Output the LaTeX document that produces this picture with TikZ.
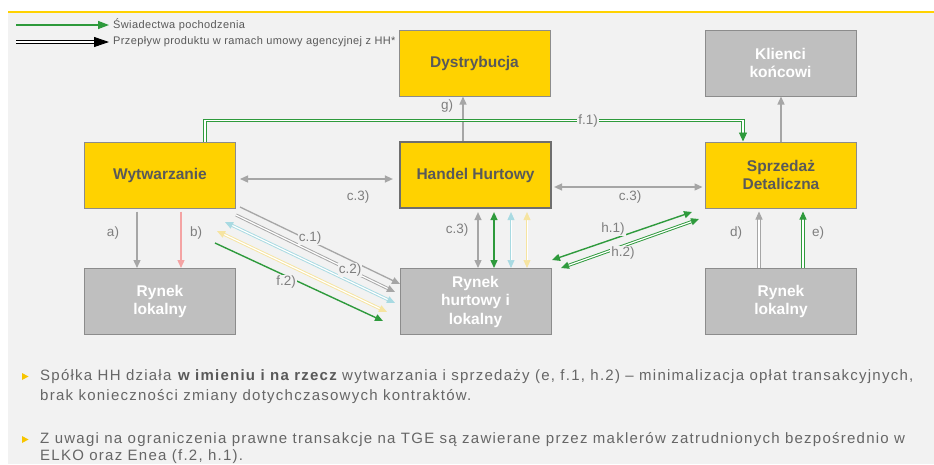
\documentclass[tikz,border=0pt]{standalone}
\usepackage{fontspec}
\setmainfont{Liberation Sans}
\newfontfamily\bulfont[LetterSpace=8.3]{Liberation Sans}
\newfontfamily\legfont[LetterSpace=3.5]{Liberation Sans}
\usetikzlibrary{arrows.meta,calc}
\definecolor{bg}{HTML}{F2F2F2}
\definecolor{hhyellow}{HTML}{FFD200}
\definecolor{bulyellow}{HTML}{F7C500}
\definecolor{boxgray}{HTML}{BFBFBF}
\definecolor{edgegray}{HTML}{8C8C8C}
\definecolor{darkedge}{HTML}{6E6E6E}
\definecolor{argray}{HTML}{A6A6A6}
\definecolor{hgreen}{HTML}{2E9A3C}
\definecolor{hpink}{HTML}{F4A3A3}
\definecolor{hblue}{HTML}{A8DAE2}
\definecolor{hlyellow}{HTML}{F6E4A0}
\definecolor{txtgray}{HTML}{595959}
\definecolor{lblgray}{HTML}{7F7F7F}
\definecolor{bultxt}{HTML}{666666}
\tikzset{
  ybox/.style={draw=edgegray, line width=1pt, fill=hhyellow, minimum width=151pt, minimum height=66pt,
    inner sep=0pt, font=\fontsize{15.5}{18.5}\selectfont\bfseries, text=txtgray, align=center},
  gbox/.style={ybox, fill=boxgray, text=white},
  arone/.style={-{Triangle[length=8pt,width=7pt]}},
  artwo/.style={{Triangle[length=8pt,width=7pt]}-{Triangle[length=8pt,width=7pt]}},
  gline/.style={draw=argray, line width=1.3pt},
  grline/.style={draw=hgreen, line width=1.4pt},
  dbl/.style={double=white, double distance=1.2pt, line width=0.95pt},
  lbl/.style={font=\fontsize{13.5}{16}\selectfont, text=lblgray, inner sep=1pt},
  lblf/.style={lbl, fill=bg},
  legtext/.style={font=\legfont\fontsize{11}{13}\selectfont, text=txtgray, inner sep=0pt, anchor=west},
  bultext/.style={font=\bulfont\fontsize{15}{20}\selectfont, text=bultxt, inner sep=0pt, anchor=base west},
}
\begin{document}
\begin{tikzpicture}[x=1pt,y=-1pt]
\useasboundingbox (0,0) rectangle (934,464);
\fill[white] (0,0) rectangle (934,464);
\fill[bg] (8,12) rectangle (934,464);
\draw[hhyellow, line width=1.6pt] (8,12) -- (934,12);

% legend
\node[legtext] (lg1) at (113,25) {Świadectwa pochodzenia};
\node[legtext] (lg2) at (113,42) {Przepływ produktu w ramach umowy agencyjnej z HH*};
\coordinate (lg1s) at (16,25);
\coordinate (lg2s) at (16,42);
\draw[grline, -{Triangle[length=11pt,width=8pt]}, shorten >=4pt] (lg1s) -- (lg1.west);
\draw[black, double=white, double distance=1.3pt, line width=0.9pt, -{Triangle[length=15pt,width=10pt]}, shorten >=4pt] (lg2s) -- (lg2.west);

% boxes
\node[ybox] (dyst) at (474.5,63) {Dystrybucja};
\node[gbox] (klienci) at (780.5,63) {Klienci\\końcowi};
\node[ybox] (wytw) at (160,175) {Wytwarzanie};
\node[ybox, draw=darkedge, line width=2.2pt] (handel) at (475.5,175) {Handel Hurtowy};
\node[ybox] (sprz) at (781,175) {Sprzedaż\\Detaliczna};
\node[gbox] (rl1) at (160,301.5) {Rynek\\lokalny};
\node[gbox] (rh) at (475.5,301.5) {Rynek\\hurtowy i\\lokalny};
\node[gbox] (rl2) at (781,301.5) {Rynek\\lokalny};

% a) b)
\draw[gline, arone, shorten <=3pt] ($(wytw.south)+(-23,0)$) -- ($(rl1.north)+(-23,0)$);
\draw[draw=hpink, line width=1.3pt, arone, shorten <=3pt] ($(wytw.south)+(21,0)$) -- ($(rl1.north)+(21,0)$);
\node[lbl] (la) at (113,233) {a)};
\node[lbl] (lb) at (196,233) {b)};

% c.3 horizontal
\draw[gline, artwo] ($(wytw.east)+(4,4)$) -- ($(handel.west)+(-6,4)$);
\node[lbl] (lc3a) at (358,197) {c.3)};
\draw[gline, artwo] ($(handel.east)+(2,12)$) -- ($(sprz.west)+(-2.5,12)$);
\node[lbl] (lc3b) at (630,197) {c.3)};

% g) and klienci
\draw[gline, arone] ($(handel.north)+(-12.5,0)$) -- ($(dyst.south)+(-11.5,0)$);
\node[lbl] (lg) at (447,106) {g)};
\draw[gline, arone] (sprz.north) -- (sprz.north |- klienci.south);

% f.1
\draw[draw=hgreen, dbl, -{Triangle[length=9pt,width=8pt]}] ($(wytw.north)+(45,0)$) |- ($(sprz.north)+(-38,-21)$) -- ($(sprz.north)+(-38,0)$);
\node[lblf] (lf1) at (588,121) {f.1)};

% vertical between handel and rynek hurtowy
\draw[gline, artwo, shorten <=3pt] ($(handel.south)+(2.5,0)$) -- ($(rh.north)+(2.5,0)$);
\node[lbl] (lc3c) at (457,230) {c.3)};
\draw[grline, artwo, shorten <=3pt] ($(handel.south)+(18.5,0)$) -- ($(rh.north)+(18.5,0)$);
\draw[draw=hblue, dbl, double distance=0.8pt, line width=0.7pt, artwo, shorten <=3pt] ($(handel.south)+(35.5,0)$) -- ($(rh.north)+(35.5,0)$);
\draw[draw=hlyellow, dbl, double distance=0.8pt, line width=0.7pt, artwo, shorten <=3pt] ($(handel.south)+(51.5,0)$) -- ($(rh.north)+(51.5,0)$);

% d) e)
\draw[draw=argray, dbl, arone, shorten >=3pt] ($(rl2.north)+(-22,0)$) -- ($(sprz.south)+(-22,0)$);
\draw[draw=hgreen, dbl, arone, shorten >=3pt] ($(rl2.north)+(22,0)$) -- ($(sprz.south)+(22,0)$);
\node[lbl] (ld) at (736,233) {d)};
\node[lbl] (le) at (818,233) {e)};

% diagonals left
\coordinate (c1s) at (240,207);  \coordinate (c1e) at (400,284);
\coordinate (c2s) at (236,215);  \coordinate (c2e) at (395,292);
\coordinate (bls) at (225,222);  \coordinate (ble) at (395,303);
\coordinate (yls) at (217,231);  \coordinate (yle) at (387,312);
\coordinate (f2s) at (215,243);  \coordinate (f2e) at (383,321);
\draw[gline, arone] (c1s) -- (c1e);
\draw[draw=argray, dbl, arone] (c2s) -- (c2e);
\draw[draw=hblue, dbl, artwo] (bls) -- (ble);
\draw[draw=hlyellow, dbl, artwo] (yls) -- (yle);
\draw[grline, arone] (f2s) -- (f2e);
\node[lblf] (lc1) at (310,238) {c.1)};
\node[lblf] (lc2) at (350,270) {c.2)};
\node[lblf] (lf2) at (286,282) {f.2)};

% h arrows
\coordinate (h1s) at (552,260);  \coordinate (h1e) at (692,212);
\coordinate (h2s) at (561,268);  \coordinate (h2e) at (699,219);
\draw[grline, artwo] (h1s) -- (h1e);
\draw[draw=hgreen, dbl, artwo] (h2s) -- (h2e);
\node[lblf] (lh1) at (613,229) {h.1)};
\node[lblf] (lh2) at (623,253) {h.2)};

% bullets
\fill[bulyellow] (22,373) -- (28.5,376.5) -- (22,380) -- cycle;
\fill[bulyellow] (22,436) -- (28.5,439.5) -- (22,443) -- cycle;
\node[bultext] (b1a) at (40,380) {Spółka HH działa \textbf{\color{txtgray}w imieniu i na rzecz} wytwarzania i sprzedaży (e, f.1, h.2) – minimalizacja opłat transakcyjnych,};
\node[bultext] (b1b) at (40,400) {brak konieczności zmiany dotychczasowych kontraktów.};
\node[bultext] (b2a) at (40,443) {Z uwagi na ograniczenia prawne transakcje na TGE są zawierane przez maklerów zatrudnionych bezpośrednio w};
\node[bultext] (b2b) at (40,460.5) {ELKO oraz Enea (f.2, h.1).};
\end{tikzpicture}
\end{document}
